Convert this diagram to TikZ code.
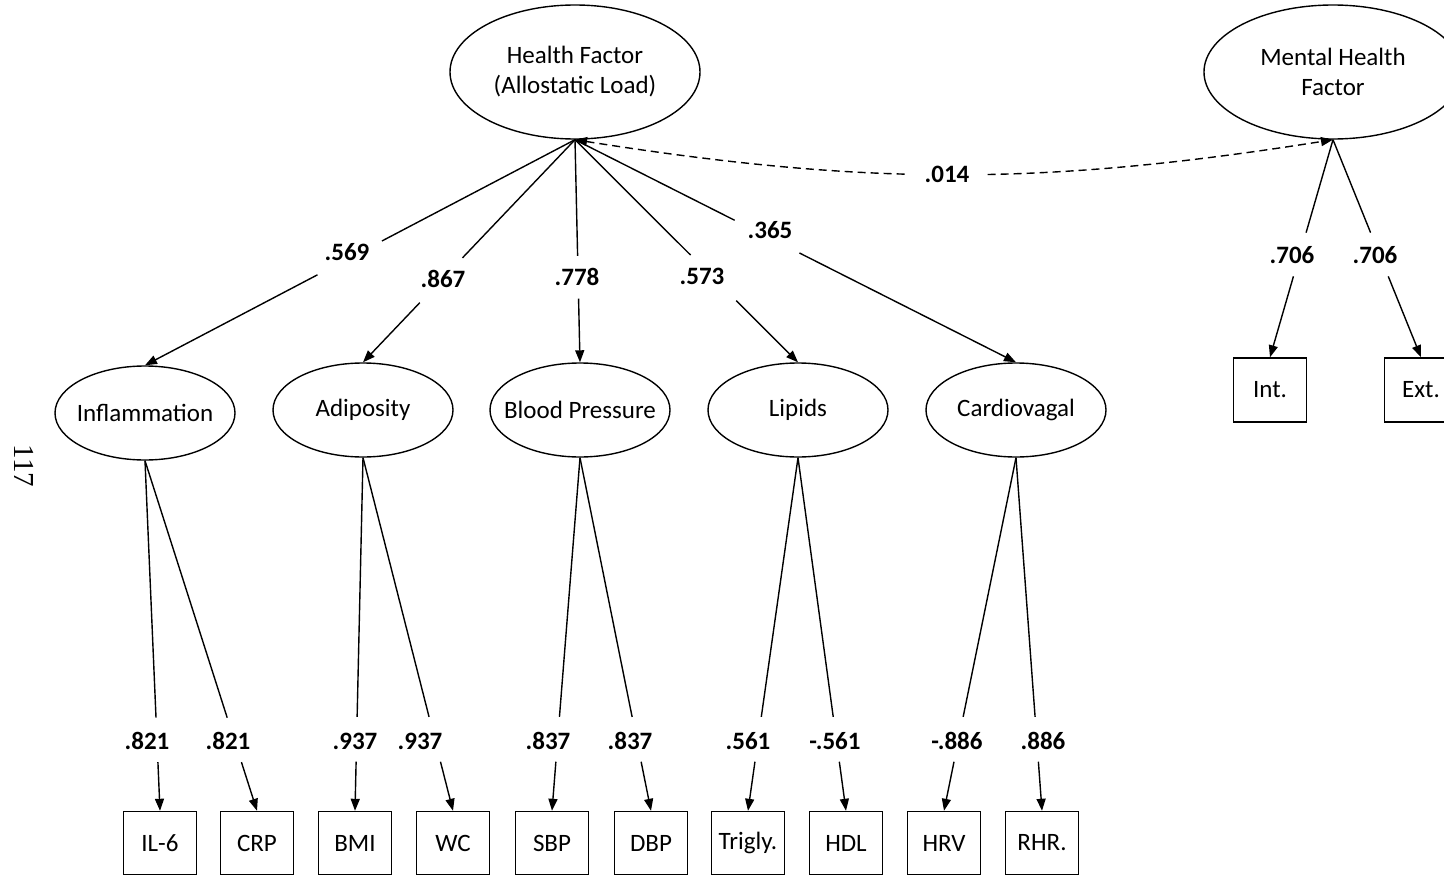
\documentclass[tikz,border=0pt]{standalone}
\usepackage{fontspec}
\setmainfont{Carlito}
\newfontfamily\foliofont{Liberation Serif}
\usetikzlibrary{shapes.geometric,arrows.meta,calc}

% straight loading path broken around its coefficient:
% #1 label name, #2 from, #3 to, #4/#5 gap start/end (fractions), #6 label position, #7 value
\newcommand\loadingpath[7]{%
  \draw[conn] (#2) -- ($(#2)!#4!(#3)$);
  \draw[conn,tip] ($(#2)!#5!(#3)$) -- (#3);
  \node[coef] (#1) at (#6) {#7};
}

\begin{document}
\begin{tikzpicture}[x=1pt,y=-1pt,
  every node/.style={font=\fontsize{25}{30}\selectfont},
  latent/.style={ellipse,draw,line width=1.4pt,inner sep=0pt},
  factor/.style={latent,minimum width=250pt,minimum height=134pt,align=center},
  sub/.style={latent,minimum width=180pt,minimum height=94pt},
  obs/.style={draw,line width=1.4pt,minimum width=73pt,minimum height=63pt,inner sep=0pt},
  conn/.style={line width=1.4pt},
  tip/.style={-{Triangle[length=12pt,width=9pt]}},
  coef/.style={font=\bfseries\fontsize{25}{30}\selectfont,inner sep=0pt},
]
\useasboundingbox (0,0) rectangle (1444,875);
\fill[white] (0,0) rectangle (1444,875);
\clip (0,0) rectangle (1444,875);

% page number
\node[font=\foliofont\fontsize{29}{30}\selectfont,rotate=-90] (folio) at (24,466) {117};

% second-order factors
\node[factor] (hf) at (575,72) {Health Factor\\(Allostatic Load)};
\node[factor,minimum width=258pt] (mhf) at (1333,72) {Mental Health\\Factor};

% first-order factors
\node[sub] (inf) at (145,413) {\makebox[0pt]{Inflammation}};
\node[sub] (adi) at (363,410) {\makebox[0pt]{Adiposity}};
\node[sub] (bp)  at (580,410) {\makebox[0pt]{Blood Pressure}};
\node[sub] (lip) at (798,410) {\makebox[0pt]{Lipids}};
\node[sub] (car) at (1016,410) {\makebox[0pt]{Cardiovagal}};

% indicators
\node[obs] (il6) at (160,843) {IL-6};
\node[obs] (crp) at (257,843) {CRP};
\node[obs] (bmi) at (355,843) {BMI};
\node[obs] (wc)  at (453,843) {WC};
\node[obs] (sbp) at (552,843) {SBP};
\node[obs] (dbp) at (651,843) {DBP};
\node[obs] (tri) at (748,843) {Trigly.};
\node[obs] (hdl) at (846,843) {HDL};
\node[obs] (hrv) at (944,843) {HRV};
\node[obs] (rhr) at (1042,843) {RHR.};
\node[obs,minimum height=64pt] (int) at (1270,390) {Int.};
\node[obs,minimum height=64pt] (ext) at (1421,390) {Ext.};

% second-order loadings
\loadingpath{l1}{hf.south}{inf.north}{0.449}{0.599}{347,252}{.569}
\loadingpath{l2}{hf.south}{adi.north}{0.531}{0.732}{443,279}{.867}
\loadingpath{l3}{hf.south}{bp.north}{0.522}{0.714}{577,277}{.778}
\loadingpath{l4}{hf.south}{lip.north}{0.518}{0.723}{702,276}{.573}
\loadingpath{l5}{hf.south}{car.north}{0.362}{0.509}{770,230}{.365}

% mental health loadings
\loadingpath{m1}{mhf.south}{int.north}{0.427}{0.628}{1292,255}{.706}
\loadingpath{m2}{mhf.south}{ext.north}{0.427}{0.628}{1375,255}{.706}

% first-order loadings
\loadingpath{i1}{inf.south}{il6.north}{0.734}{0.861}{147,741}{.821}
\loadingpath{i2}{inf.south}{crp.north}{0.734}{0.861}{228,741}{.821}
\loadingpath{a1}{adi.south}{bmi.north}{0.734}{0.861}{355,741}{.937}
\loadingpath{a2}{adi.south}{wc.north}{0.734}{0.861}{420,741}{.937}
\loadingpath{b1}{bp.south}{sbp.north}{0.734}{0.861}{548,741}{.837}
\loadingpath{b2}{bp.south}{dbp.north}{0.734}{0.861}{630,741}{.837}
\loadingpath{p1}{lip.south}{tri.north}{0.734}{0.861}{748,741}{.561}
\loadingpath{p2}{lip.south}{hdl.north}{0.734}{0.861}{835,741}{-.561}
\loadingpath{c1}{car.south}{hrv.north}{0.734}{0.861}{957,741}{-.886}
\loadingpath{c2}{car.south}{rhr.north}{0.734}{0.861}{1043,741}{.886}

% factor covariance
\draw[conn,dash pattern=on 8pt off 5pt,
      {Triangle[length=12pt,width=9pt]}-{Triangle[length=12pt,width=9pt]}]
  (hf.south) to[bend right=9]
  node[coef,fill=white,inner xsep=17pt,inner ysep=3pt,pos=0.49] (cov) {.014}
  (mhf.south);
\end{tikzpicture}
\end{document}
